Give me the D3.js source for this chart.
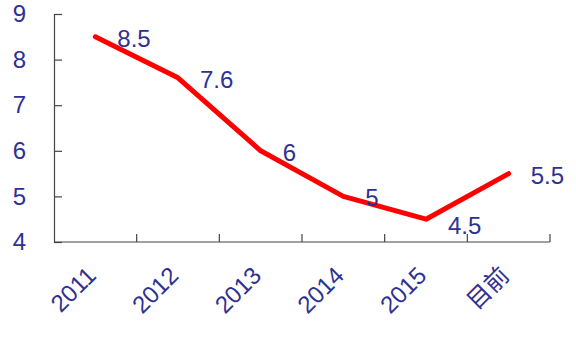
<!DOCTYPE html>
<html>
<head>
<meta charset="utf-8">
<script src="https://cdn.jsdelivr.net/npm/d3@7"></script>
<style>
  body { margin: 0; background: #fff; }
  text { font-family: Arial, "Liberation Sans", "Noto Sans CJK SC", sans-serif; }
</style>
</head>
<body>
<div id="chart"></div>
<script>
var categories = ["2011", "2012", "2013", "2014", "2015", "目前"];
var values = [8.5, 7.6, 6, 5, 4.5, 5.5];
var yTicks = [4, 5, 6, 7, 8, 9];

var width = 576, height = 345;
var margin = {top: 14, right: 26, bottom: 103, left: 54};
var textColor = "#2e3192";
var fs = 24;

var svg = d3.select("#chart").append("svg")
  .attr("width", width).attr("height", height);

var x = d3.scaleBand().domain(categories)
  .range([margin.left, width - margin.right]);
var y = d3.scaleLinear().domain([4, 9])
  .range([height - margin.bottom, margin.top]);

// y axis, ticks pointing inward
var yAxis = svg.append("g")
  .attr("transform", "translate(" + margin.left + ",0)")
  .call(d3.axisRight(y).tickValues(yTicks).tickSize(8).tickFormat(d3.format("d")));
yAxis.select(".domain").attr("stroke", "#444").attr("stroke-width", 1.2);
yAxis.selectAll(".tick line").attr("stroke", "#444").attr("stroke-width", 1.2);
yAxis.selectAll(".tick text")
  .attr("x", -28).attr("text-anchor", "end")
  .attr("fill", textColor).attr("font-size", fs);

// x axis, ticks at band edges
var xEdges = categories.map(function(d) { return x(d); }).concat([x.range()[1]]);
var xAxis = svg.append("g")
  .attr("transform", "translate(0," + y(4) + ")");
xAxis.append("line")
  .attr("x1", margin.left).attr("x2", width - margin.right)
  .attr("stroke", "#444").attr("stroke-width", 1.2);
xAxis.selectAll("line.tk").data(xEdges.slice(1)).enter().append("line")
  .attr("class", "tk")
  .attr("x1", function(d) { return d; }).attr("x2", function(d) { return d; })
  .attr("y1", 0).attr("y2", -8)
  .attr("stroke", "#444").attr("stroke-width", 1.2);
xAxis.selectAll("text").data(categories).enter().append("text")
  .attr("transform", function(d) {
    return "translate(" + (x(d) + x.bandwidth() / 2 + 2) + ",35) rotate(-45)";
  })
  .attr("text-anchor", "end")
  .attr("fill", textColor).attr("font-size", fs)
  .text(function(d) { return d; });

// line
var pts = categories.map(function(c, i) { return {c: c, v: values[i]}; });
var line = d3.line()
  .x(function(d) { return x(d.c) + x.bandwidth() / 2; })
  .y(function(d) { return y(d.v); });
svg.append("path").datum(pts)
  .attr("d", line)
  .attr("fill", "none")
  .attr("stroke", "#ff0000")
  .attr("stroke-width", 5)
  .attr("stroke-linejoin", "round")
  .attr("stroke-linecap", "round");

// data labels
var minV = d3.min(values);
svg.selectAll("text.lbl").data(pts).enter().append("text")
  .attr("class", "lbl")
  .attr("x", function(d) { return x(d.c) + x.bandwidth() / 2 + 22; })
  .attr("y", function(d) { return y(d.v) + (d.v === minV ? 15 : 10); })
  .attr("fill", textColor).attr("font-size", fs)
  .text(function(d) { return d.v; });
</script>
</body>
</html>
